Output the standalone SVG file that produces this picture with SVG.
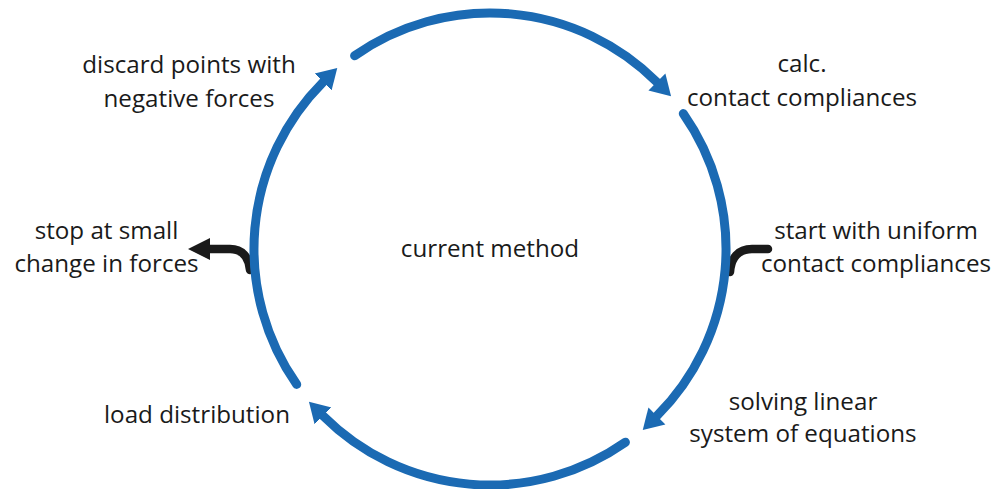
<svg xmlns="http://www.w3.org/2000/svg" width="1005" height="489" viewBox="0 0 1005 489">
  <style>
    .label { font-family: "Open Sans", "Noto Sans", "Liberation Sans", sans-serif; font-size: 24.2px; fill: #1a1a1a; text-anchor: middle; }
    .cycle { fill: none; stroke: #1b6ab3; stroke-width: 9; stroke-linecap: round; }
    .side { fill: none; stroke: #1a1a1a; stroke-width: 8.5; stroke-linecap: round; }
  </style>
  <defs>
    <marker id="blueHead" markerUnits="userSpaceOnUse" markerWidth="22" markerHeight="26" refX="0" refY="12" orient="auto" viewBox="0 0 22 24">
      <polygon points="0,0 20,12 0,24" fill="#1b6ab3"/>
    </marker>
    <marker id="blackHead" markerUnits="userSpaceOnUse" markerWidth="24" markerHeight="24" refX="0" refY="11" orient="auto" viewBox="0 0 24 22">
      <polygon points="0,0 22,11 0,22" fill="#1a1a1a"/>
    </marker>
  </defs>

  <g id="connectors">
    <!-- side links: entry on the right, exit on the left -->
    <path class="side" d="M 730 272 C 731 258 738 249 752 249 L 768 249"/>
    <path class="side" d="M 250 270 C 249 257 242 249 230 249 L 210 249" stroke-linecap="butt" marker-end="url(#blackHead)"/>
    <!-- four quarter arcs of the cycle, centre (490,249), r = 236 -->
    <path class="cycle" d="M 354.6 55.7 A 236 236 0 0 1 656.9 82.1" marker-end="url(#blueHead)"/>
    <path class="cycle" d="M 683.3 113.6 A 236 236 0 0 1 656.9 415.9" marker-end="url(#blueHead)"/>
    <path class="cycle" d="M 625.4 442.3 A 236 236 0 0 1 323.1 415.9" marker-end="url(#blueHead)"/>
    <path class="cycle" d="M 296.7 384.4 A 236 236 0 0 1 323.1 82.1" marker-end="url(#blueHead)"/>
  </g>

  <g id="center">
    <text class="label" x="490" y="257">current method</text>
  </g>
  <g id="calc">
    <text class="label" x="802" y="72">calc.</text>
    <text class="label" x="802" y="105.5">contact compliances</text>
  </g>
  <g id="start">
    <text class="label" x="876" y="238.5">start with uniform</text>
    <text class="label" x="876" y="271.5">contact compliances</text>
  </g>
  <g id="solve">
    <text class="label" x="803" y="409.5">solving linear</text>
    <text class="label" x="803" y="442">system of equations</text>
  </g>
  <g id="load">
    <text class="label" x="197" y="423">load distribution</text>
  </g>
  <g id="stop">
    <text class="label" x="106.5" y="239">stop at small</text>
    <text class="label" x="106.5" y="272">change in forces</text>
  </g>
  <g id="discard">
    <text class="label" x="189" y="73">discard points with</text>
    <text class="label" x="189" y="106.5">negative forces</text>
  </g>
</svg>
